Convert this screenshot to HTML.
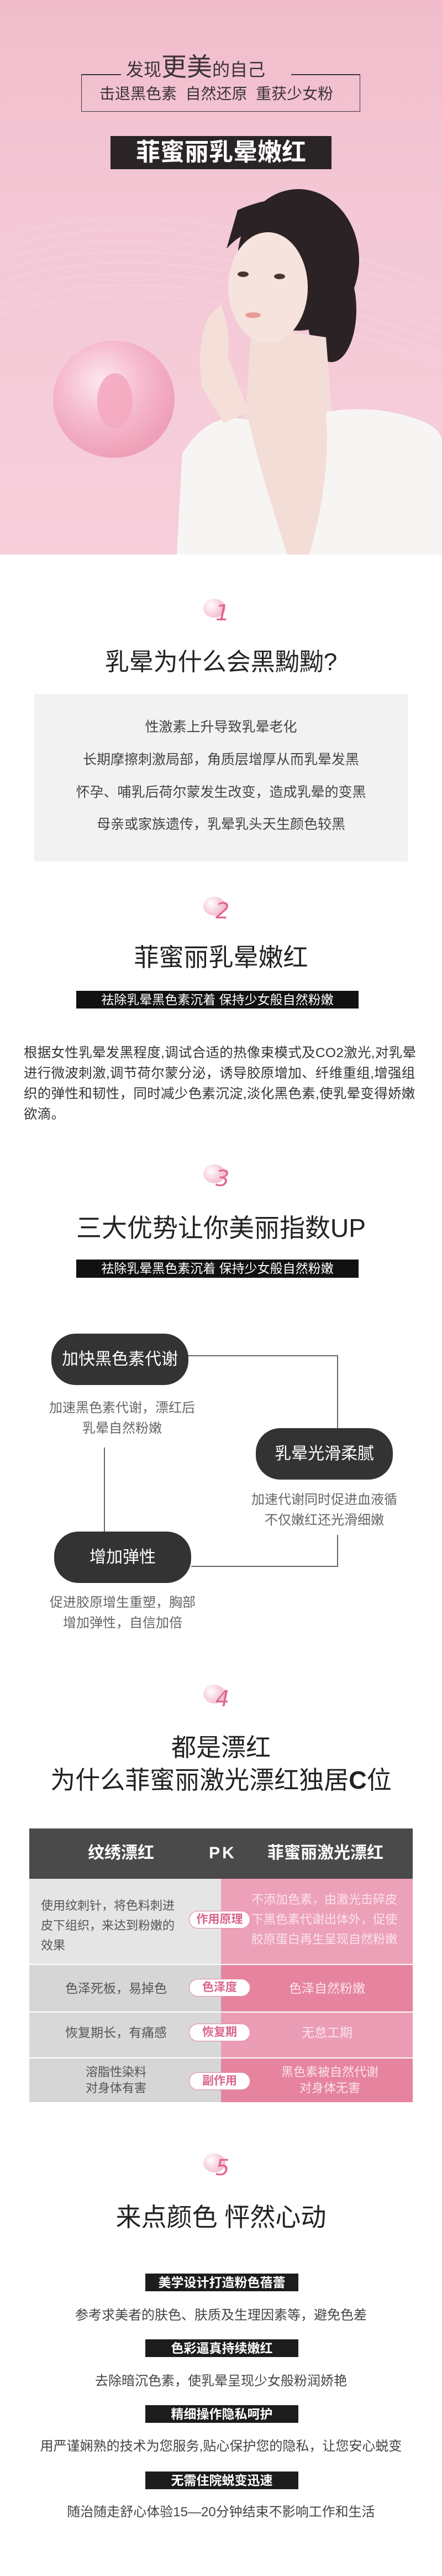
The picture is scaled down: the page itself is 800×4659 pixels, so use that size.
<!DOCTYPE html>
<html><head><meta charset="utf-8"><style>
*{margin:0;padding:0;box-sizing:border-box}
body{width:800px;height:4659px;position:relative;background:#fff;font-family:"Liberation Sans","Noto Sans CJK SC",sans-serif;overflow:hidden;color:#333}
.a{position:absolute}
.c{position:absolute;left:0;width:800px;text-align:center;white-space:nowrap}
.badge{position:absolute;left:368px;width:64px;height:50px}
.badge .o{position:absolute;left:0;top:0;width:40px;height:34px;border-radius:50%;background:radial-gradient(circle at 35% 35%,#fff 0%,#f7d2df 45%,#efabc2 100%)}
.badge .n{position:absolute;left:22px;top:2px;font-size:40px;color:#e2668f;font-style:italic;font-family:"DejaVu Sans","Liberation Sans",sans-serif;font-weight:300;line-height:48px}
.bar{position:absolute;left:138px;width:511px;background:#111;color:#fff;text-align:center;white-space:nowrap}
.node{position:absolute;width:248px;height:93px;border-radius:44px;background:#333;color:#fff;font-size:30px;line-height:93px;text-align:center}
.desc{position:absolute;font-size:24px;color:#666;text-align:center;line-height:37px;white-space:nowrap}
.lab{position:absolute;left:263px;width:277px;height:32px;background:#1c1c1c;color:#fff;font-weight:bold;font-size:23px;line-height:32px;text-align:center}
.d5{font-size:24px;color:#444}
.pill{position:absolute;left:342px;width:111px;height:32px;border-radius:16px;background:#fff;border:1px solid #e28aa6;color:#d9668c;font-size:21px;line-height:30px;text-align:center;font-weight:bold}
.lt{position:absolute;color:#555;font-size:22px;line-height:36px}
.rt{position:absolute;color:#fbe3eb;font-size:22px;line-height:36px;text-align:center}
</style></head><body>

<!-- HERO -->
<div class="a" style="left:0;top:0;width:800px;height:1003px;background:linear-gradient(180deg,#f0bccb 0%,#f4c8d6 40%,#f6cfdb 100%)"></div>
<svg class="a" style="left:0;top:0" width="800" height="1003">
<g fill="none" stroke="#f9dbe4" stroke-width="1" opacity="0.7">
<path d="M0 430 Q300 330 800 520"/><path d="M0 450 Q300 350 800 540"/><path d="M0 470 Q300 370 800 560"/><path d="M0 490 Q300 390 800 580"/><path d="M0 510 Q300 410 800 600"/><path d="M0 530 Q300 430 800 620"/><path d="M0 550 Q300 450 800 640"/><path d="M0 570 Q300 470 800 660"/>
</g>
<!-- hair back -->
<ellipse cx="540" cy="470" rx="110" ry="128" fill="#2a2224"/>
<ellipse cx="600" cy="560" rx="45" ry="95" fill="#2a2224"/>
<!-- neck/chest -->
<path d="M455 590 L445 740 Q420 800 440 1003 L640 1003 Q620 800 600 740 L590 610 Z" fill="#f3ddd7"/>
<!-- robe -->
<path d="M320 1003 L330 820 Q380 740 450 760 Q470 850 520 1003 Z" fill="#f7f5f4"/>
<path d="M560 1003 Q600 860 590 745 Q680 730 760 760 Q800 775 800 800 L800 1003 Z" fill="#f7f5f4"/>
<!-- face -->
<ellipse cx="485" cy="520" rx="72" ry="100" fill="#f6e3dd"/>
<path d="M410 450 Q470 380 600 440 L590 380 Q520 340 430 380 Z" fill="#2a2224"/>
<ellipse cx="440" cy="496" rx="10" ry="5" fill="#4a3430"/>
<ellipse cx="506" cy="500" rx="10" ry="5" fill="#4a3430"/>
<ellipse cx="458" cy="570" rx="14" ry="5" fill="#e79a98"/>
<!-- hand -->
<path d="M365 700 Q355 610 380 570 L400 550 Q420 610 412 645 Q430 690 450 745 L405 765 Z" fill="#f4dfd9"/>
<!-- droplet -->
<defs><radialGradient id="dg" cx="40%" cy="35%" r="65%"><stop offset="0" stop-color="#fde8ef"/><stop offset="0.55" stop-color="#f5b8cb"/><stop offset="1" stop-color="#ef9fb8"/></radialGradient></defs>
<ellipse cx="206" cy="722" rx="110" ry="106" fill="url(#dg)"/>
<ellipse cx="208" cy="725" rx="32" ry="50" fill="#f4a9c0" opacity="0.9"/>
</svg>

<!-- hero text -->
<div class="a" style="left:147px;top:134px;width:505px;height:68px;border:1.5px solid #3b3336;border-top:none"></div>
<div class="a" style="left:147px;top:134px;width:72px;height:1.5px;background:#3b3336"></div>
<div class="a" style="left:527px;top:134px;width:125px;height:1.5px;background:#3b3336"></div>
<div class="a" style="left:228px;top:96px;white-space:nowrap;color:#3b3336;font-size:32px;line-height:50px">发现<span style="font-size:46px">更美</span>的自己</div>
<div class="a" style="left:180px;top:152px;white-space:nowrap;color:#3b3336;font-size:28px;line-height:36px">击退黑色素&nbsp; 自然还原&nbsp; 重获少女粉</div>
<div class="a" style="left:200px;top:246px;width:400px;height:60px;background:#2b2426;color:#fff;font-weight:bold;font-size:44px;line-height:60px;text-align:center">菲蜜丽乳晕嫩红</div>

<!-- SECTION 1 -->
<div class="badge" style="top:1083px"><div class="o"></div><div class="n">1</div></div>
<div class="c" style="top:1172px;font-size:44px;line-height:52px;color:#222">乳晕为什么会黑黝黝?</div>
<div class="a" style="left:62px;top:1255px;width:676px;height:303px;background:#f2f2f2"></div>
<div class="c" style="top:1298px;font-size:25px;line-height:34px;color:#444">性激素上升导致乳晕老化</div>
<div class="c" style="top:1357px;font-size:25px;line-height:34px;color:#444">长期摩擦刺激局部，角质层增厚从而乳晕发黑</div>
<div class="c" style="top:1416px;font-size:25px;line-height:34px;color:#444">怀孕、哺乳后荷尔蒙发生改变，造成乳晕的变黑</div>
<div class="c" style="top:1474px;font-size:25px;line-height:34px;color:#444">母亲或家族遗传，乳晕乳头天生颜色较黑</div>

<!-- SECTION 2 -->
<div class="badge" style="top:1622px"><div class="o"></div><div class="n">2</div></div>
<div class="c" style="top:1706px;font-size:45px;line-height:52px;color:#222">菲蜜丽乳晕嫩红</div>
<div class="bar" style="top:1792px;height:32px;font-size:23px;line-height:32px">祛除乳晕黑色素沉着 保持少女般自然粉嫩</div>
<div class="a" style="left:43px;top:1886px;width:720px;font-size:24.5px;line-height:37px;color:#333;letter-spacing:0.3px">根据女性乳晕发黑程度,调试合适的热像束模式及CO2激光,对乳晕进行微波刺激,调节荷尔蒙分泌，诱导胶原增加、纤维重组,增强组织的弹性和韧性，同时减少色素沉淀,淡化黑色素,使乳晕变得娇嫩欲滴。</div>

<!-- SECTION 3 -->
<div class="badge" style="top:2106px"><div class="o"></div><div class="n">3</div></div>
<div class="c" style="top:2194px;font-size:46px;line-height:54px;color:#222">三大优势让你美丽指数UP</div>
<div class="bar" style="top:2278px;height:33px;font-size:23px;line-height:33px">祛除乳晕黑色素沉着 保持少女般自然粉嫩</div>
<svg class="a" style="left:0;top:2400px" width="800" height="480">
<g fill="none" stroke="#333" stroke-width="1.5">
<path d="M340 52 H611 V183"/>
<path d="M189 218 V370"/>
<path d="M611 376 V433 H346"/>
</g></svg>
<div class="node" style="left:93px;top:2412px">加快黑色素代谢</div>
<div class="desc" style="left:71px;width:300px;top:2528px">加速黑色素代谢，漂红后<br>乳晕自然粉嫩</div>
<div class="node" style="left:463px;top:2583px">乳晕光滑柔腻</div>
<div class="desc" style="left:437px;width:300px;top:2694px">加速代谢同时促进血液循<br>不仅嫩红还光滑细嫩</div>
<div class="node" style="left:98px;top:2770px">增加弹性</div>
<div class="desc" style="left:72px;width:300px;top:2880px">促进胶原增生重塑，胸部<br>增加弹性，自信加倍</div>

<!-- SECTION 4 -->
<div class="badge" style="top:3047px"><div class="o"></div><div class="n">4</div></div>
<div class="c" style="top:3133px;font-size:45px;line-height:56px;color:#222">都是漂红</div>
<div class="c" style="top:3192px;font-size:45px;line-height:56px;color:#222">为什么菲蜜丽激光漂红独居<b>C</b>位</div>

<div class="a" style="left:53px;top:3307px;width:694px;height:91px;background:#4a4a4a"></div>
<div class="a" style="left:139px;top:3330px;width:160px;text-align:center;color:#fff;font-weight:bold;font-size:30px;line-height:44px">纹绣漂红</div>
<div class="a" style="left:363px;top:3330px;width:80px;text-align:center;color:#fff;font-weight:bold;font-size:30px;line-height:44px;letter-spacing:4px">PK</div>
<div class="a" style="left:469px;top:3330px;width:240px;text-align:center;color:#fff;font-weight:bold;font-size:30px;line-height:44px">菲蜜丽激光漂红</div>

<div class="a" style="left:53px;top:3398px;width:347px;height:154px;background:#e5e5e5"></div>
<div class="a" style="left:400px;top:3398px;width:347px;height:154px;background:#eca1b8"></div>
<div class="a" style="left:53px;top:3554px;width:347px;height:84px;background:#d6d6d6"></div>
<div class="a" style="left:400px;top:3554px;width:347px;height:84px;background:#e6849f"></div>
<div class="a" style="left:53px;top:3640px;width:347px;height:81px;background:#d8d8d8"></div>
<div class="a" style="left:400px;top:3640px;width:347px;height:81px;background:#eb9db5"></div>
<div class="a" style="left:53px;top:3723px;width:347px;height:79px;background:#d6d6d6"></div>
<div class="a" style="left:400px;top:3723px;width:347px;height:79px;background:#e6849f"></div>

<div class="lt" style="left:74px;top:3429px;width:260px">使用纹刺针，将色料刺进<br>皮下组织，来达到粉嫩的<br>效果</div>
<div class="rt" style="left:455px;top:3418px;width:272px;text-align:left">不添加色素，由激光击碎皮<br>下黑色素代谢出体外，促使<br>胶原蛋白再生呈现自然粉嫩</div>
<div class="lt" style="left:70px;top:3578px;width:280px;text-align:center;font-size:23px">色泽死板，易掉色</div>
<div class="rt" style="left:452px;top:3578px;width:280px;font-size:23px">色泽自然粉嫩</div>
<div class="lt" style="left:70px;top:3658px;width:280px;text-align:center;font-size:23px">恢复期长，有痛感</div>
<div class="rt" style="left:452px;top:3658px;width:280px;font-size:23px">无怠工期</div>
<div class="lt" style="left:70px;top:3733px;width:280px;text-align:center;font-size:22px;line-height:29px">溶脂性染料<br>对身体有害</div>
<div class="rt" style="left:452px;top:3733px;width:290px;font-size:22px;line-height:29px">黑色素被自然代谢<br>对身体无害</div>

<div class="pill" style="top:3456px">作用原理</div>
<div class="pill" style="top:3579px">色泽度</div>
<div class="pill" style="top:3660px">恢复期</div>
<div class="pill" style="top:3748px">副作用</div>

<!-- SECTION 5 -->
<div class="badge" style="top:3895px"><div class="o"></div><div class="n">5</div></div>
<div class="c" style="top:3983px;font-size:46px;line-height:54px;color:#222">来点颜色 怦然心动</div>
<div class="lab" style="top:4112px">美学设计打造粉色蓓蕾</div>
<div class="c d5" style="top:4171px;line-height:34px">参考求美者的肤色、肤质及生理因素等，避免色差</div>
<div class="lab" style="top:4231px">色彩逼真持续嫩红</div>
<div class="c d5" style="top:4290px;line-height:34px">去除暗沉色素，使乳晕呈现少女般粉润娇艳</div>
<div class="lab" style="top:4350px">精细操作隐私呵护</div>
<div class="c d5" style="top:4408px;line-height:34px">用严谨娴熟的技术为您服务,贴心保护您的隐私，让您安心蜕变</div>
<div class="lab" style="top:4470px">无需住院蜕变迅速</div>
<div class="c d5" style="top:4527px;line-height:34px">随治随走舒心体验15—20分钟结束不影响工作和生活</div>

</body></html>
